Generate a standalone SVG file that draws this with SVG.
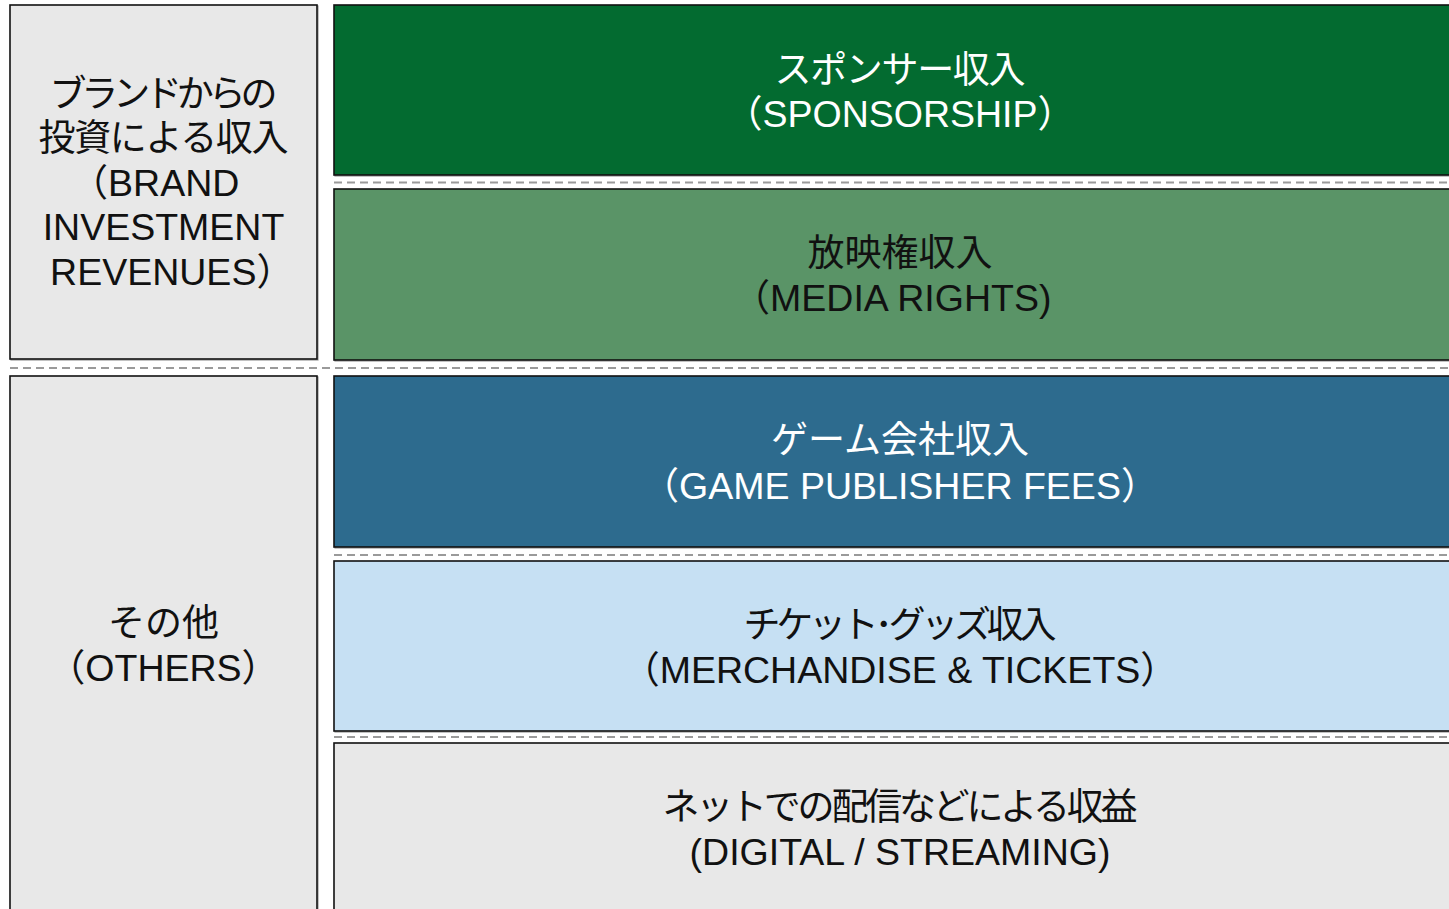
<svg xmlns="http://www.w3.org/2000/svg" width="1449" height="909" viewBox="0 0 1449 909">
<style>
.box{stroke:#111;stroke-width:1.6}
.sh{fill:none;stroke:#999;stroke-width:1.2}
.t{font-family:"Liberation Sans","Noto Sans CJK JP",sans-serif;font-size:37px;text-anchor:middle}
.en{font-size:37.5px}
.w{fill:#fff}
.k{fill:#111}
.dash{stroke:#9a9a9a;stroke-width:2;stroke-dasharray:8 5;fill:none}
</style>
<rect width="1449" height="909" fill="#fff"/>
<g id="connectors">
<line class="dash" x1="334" y1="182.5" x2="1449" y2="182.5"/>
<line class="dash" x1="10" y1="368" x2="1449" y2="368"/>
<line class="dash" x1="334" y1="555" x2="1449" y2="555"/>
<line class="dash" x1="334" y1="737" x2="1449" y2="737"/>
</g>
<g id="brand">
<rect class="sh" x="11" y="6" width="307" height="354"/>
<rect class="box" x="10" y="5" width="307" height="354" fill="#e8e8e8"/>
<text class="t k"><tspan x="163.5" y="107" textLength="228" lengthAdjust="spacing">ブランドからの</tspan><tspan x="163.5" y="151" textLength="250" lengthAdjust="spacing">投資による収入</tspan><tspan class="en" x="155" y="196">（BRAND</tspan><tspan class="en" x="163.5" y="240">INVESTMENT</tspan><tspan class="en" x="172" y="285">REVENUES）</tspan></text>
</g>
<g id="others">
<rect class="sh" x="11" y="377" width="307" height="560"/>
<rect class="box" x="10" y="376" width="307" height="560" fill="#e8e8e8"/>
<text class="t k"><tspan x="163.5" y="636">その他</tspan><tspan class="en" x="163.5" y="681">（OTHERS）</tspan></text>
</g>
<g id="sponsorship">
<rect class="sh" x="335" y="6" width="1140" height="170"/>
<rect class="box" x="334" y="5" width="1140" height="170" fill="#036b30"/>
<text class="t w"><tspan x="900" y="83" textLength="251" lengthAdjust="spacing">スポンサー収入</tspan><tspan class="en" x="900" y="127">（SPONSORSHIP）</tspan></text>
</g>
<g id="media">
<rect class="sh" x="335" y="190" width="1140" height="171"/>
<rect class="box" x="334" y="189" width="1140" height="171" fill="#5a9467"/>
<text class="t k"><tspan x="900" y="266">放映権収入</tspan><tspan class="en" x="892" y="311">（MEDIA RIGHTS)</tspan></text>
</g>
<g id="publisher">
<rect class="sh" x="335" y="377" width="1140" height="171"/>
<rect class="box" x="334" y="376" width="1140" height="171" fill="#2d6b8e"/>
<text class="t w"><tspan x="900" y="453">ゲーム会社収入</tspan><tspan class="en" x="900" y="499">（GAME PUBLISHER FEES）</tspan></text>
</g>
<g id="merch">
<rect class="sh" x="335" y="562" width="1140" height="170"/>
<rect class="box" x="334" y="561" width="1140" height="170" fill="#c6e0f3"/>
<text class="t k"><tspan x="900" y="638" textLength="313" lengthAdjust="spacing">チケット･グッズ収入</tspan><tspan class="en" x="900" y="683">（MERCHANDISE &amp; TICKETS）</tspan></text>
</g>
<g id="digital">
<rect class="sh" x="335" y="744" width="1140" height="200"/>
<rect class="box" x="334" y="743" width="1140" height="200" fill="#e8e8e8"/>
<text class="t k"><tspan x="900" y="820" textLength="475" lengthAdjust="spacing">ネットでの配信などによる収益</tspan><tspan class="en" x="900" y="865">(DIGITAL / STREAMING)</tspan></text>
</g>
</svg>
